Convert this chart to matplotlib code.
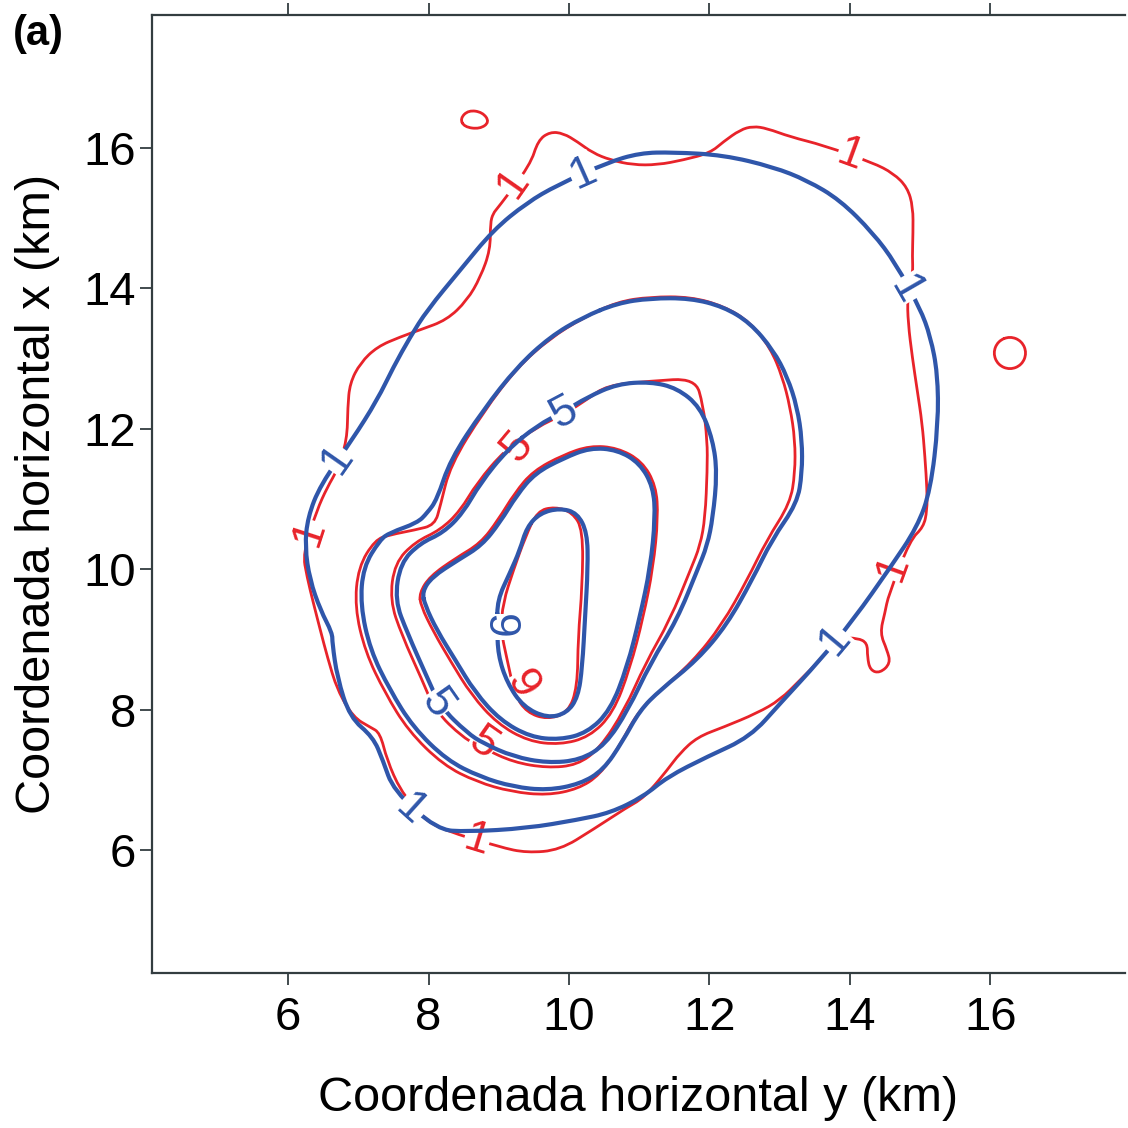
import numpy as np
import matplotlib.pyplot as plt
from matplotlib.path import Path
from matplotlib.patches import PathPatch

plt.rcParams["font.family"] = ["Liberation Sans", "DejaVu Sans"]

# contour lines (km); red = one field, blue = the other
red_lvl1 = [(9.45, 15.76), (9.56, 16.11), (9.73, 16.23), (9.92, 16.21), (10.12, 16.09),
            (10.34, 15.93), (10.59, 15.83), (10.91, 15.76), (11.26, 15.76), (11.63, 15.83),
            (12.01, 15.93), (12.20, 16.09), (12.44, 16.26), (12.62, 16.31), (12.82, 16.28),
            (13.15, 16.16), (13.62, 16.04), (14.33, 15.79), (14.62, 15.64), (14.82, 15.44),
            (14.90, 15.16), (14.90, 14.79), (14.89, 14.45), (14.90, 14.22), (14.82, 13.88),
            (14.83, 13.51), (14.89, 13.02), (14.96, 12.55), (15.03, 12.08), (15.07, 11.60),
            (15.10, 11.13), (15.10, 10.84), (15.05, 10.60), (14.86, 10.42), (14.55, 9.63),
            (14.50, 9.38), (14.43, 9.09), (14.53, 8.85), (14.58, 8.66), (14.43, 8.52),
            (14.29, 8.56), (14.25, 8.75), (14.25, 8.95), (14.11, 9.02), (13.86, 9.02),
            (13.72, 8.89), (13.58, 8.71), (13.29, 8.42), (13.01, 8.14), (12.68, 7.95),
            (12.20, 7.75), (11.83, 7.61), (11.58, 7.38), (11.40, 7.14), (11.16, 6.85),
            (11.01, 6.71), (10.83, 6.61), (10.34, 6.29), (9.87, 6.00), (9.40, 5.96),
            (9.02, 6.04), (8.07, 6.33), (7.84, 6.57), (7.60, 6.85), (7.41, 7.28),
            (7.31, 7.67), (7.17, 7.75), (6.93, 7.89), (6.70, 8.28), (6.56, 8.75),
            (6.46, 9.13), (6.36, 9.52), (6.27, 9.89), (6.21, 10.23), (6.41, 10.84),
            (6.56, 11.17), (6.70, 11.41), (6.84, 11.84), (6.85, 12.31), (6.88, 12.65),
            (7.03, 12.94), (7.27, 13.17), (7.60, 13.31), (7.88, 13.41), (8.26, 13.55),
            (8.55, 13.83), (8.74, 14.16), (8.88, 14.55), (8.88, 14.93), (8.92, 15.07),
            (8.99, 15.15)]
red_lvl3 = [(10.69, 13.81), (11.16, 13.88), (11.73, 13.88), (12.20, 13.75), (12.58, 13.52),
            (12.87, 13.15), (13.04, 12.74), (13.15, 12.31), (13.22, 11.84), (13.22, 11.37),
            (13.15, 10.94), (12.82, 10.42), (12.54, 9.85), (12.18, 9.21), (11.76, 8.68),
            (11.26, 8.24), (10.97, 7.95), (10.72, 7.48), (10.44, 7.07), (10.13, 6.87),
            (9.69, 6.78), (9.18, 6.83), (8.69, 6.97), (8.21, 7.21), (7.71, 7.70),
            (7.38, 8.24), (7.10, 8.82), (6.95, 9.46), (7.00, 10.03), (7.24, 10.42),
            (7.45, 10.49), (7.81, 10.56), (8.09, 10.63), (8.17, 10.91), (8.31, 11.48),
            (8.78, 12.24), (9.26, 12.87), (9.73, 13.29), (10.20, 13.58)]
red_lvl5 = [(9.55, 12.03), (9.92, 12.20), (10.26, 12.42), (10.54, 12.62), (11.16, 12.68),
            (11.80, 12.72), (11.91, 12.34), (11.97, 11.84), (11.97, 11.41), (11.94, 10.74),
            (11.87, 10.34), (11.73, 9.99), (11.44, 9.28), (11.09, 8.66), (10.79, 7.99),
            (10.44, 7.45), (10.12, 7.21), (9.69, 7.17), (9.21, 7.25), (8.78, 7.45),
            (8.49, 7.60), (8.09, 7.99), (7.91, 8.42), (7.62, 9.06), (7.45, 9.56),
            (7.52, 10.09), (7.81, 10.39), (8.17, 10.56), (8.45, 10.83), (8.69, 11.23),
            (9.09, 11.70)]
red_lvl7 = [(7.87, 9.66), (8.02, 9.90), (8.39, 10.16), (8.74, 10.37), (8.99, 10.70),
            (9.23, 11.09), (9.49, 11.40), (9.92, 11.63), (10.30, 11.76), (10.69, 11.73),
            (11.04, 11.54), (11.24, 11.19), (11.27, 10.74), (11.20, 10.03), (11.06, 9.32),
            (10.87, 8.59), (10.63, 7.95), (10.29, 7.61), (9.87, 7.50), (9.42, 7.55),
            (8.98, 7.80), (8.61, 8.21), (8.32, 8.68), (8.07, 9.11), (7.89, 9.48)]
red_lvl9 = [(9.55, 10.83), (9.80, 10.89), (10.05, 10.81), (10.20, 10.56), (10.19, 9.75),
            (10.13, 9.03), (10.12, 8.32), (9.99, 7.96), (9.69, 7.86), (9.40, 7.96),
            (9.23, 8.21), (9.12, 8.71), (9.03, 9.13), (9.06, 9.52), (9.21, 9.99),
            (9.38, 10.46)]
red_islet_a = [(8.45, 16.42), (8.57, 16.54), (8.77, 16.51), (8.87, 16.37), (8.73, 16.27),
               (8.51, 16.30)]
red_islet_b = [(16.28, 13.32), (16.45, 13.25), (16.52, 13.08), (16.45, 12.91), (16.28, 12.84),
               (16.11, 12.91), (16.04, 13.08), (16.11, 13.25)]

blue_lvl1 = [(9.83, 15.47), (9.40, 15.22), (8.92, 14.83), (8.45, 14.26), (7.98, 13.69),
             (7.74, 13.31), (7.50, 12.88), (7.27, 12.41), (6.91, 11.84), (6.46, 11.20),
             (6.28, 10.74), (6.24, 10.32), (6.31, 9.85), (6.46, 9.42), (6.63, 9.09),
             (6.63, 8.95), (6.70, 8.46), (6.88, 7.89), (7.21, 7.61), (7.35, 7.28),
             (7.50, 6.85), (8.12, 6.29), (8.55, 6.26), (9.40, 6.31), (10.12, 6.43),
             (10.59, 6.53), (11.06, 6.76), (11.40, 7.04), (11.97, 7.33), (12.58, 7.61),
             (13.01, 8.09), (13.58, 8.71), (14.05, 9.28), (14.58, 10.03), (14.96, 10.60),
             (15.15, 11.13), (15.26, 12.08), (15.25, 12.79), (15.15, 13.31), (15.00, 13.72),
             (14.65, 14.36), (14.33, 14.79), (13.86, 15.26), (13.39, 15.54), (12.91, 15.73),
             (12.20, 15.90), (11.48, 15.94), (11.01, 15.93), (10.54, 15.79)]
blue_lvl3 = [(10.69, 13.79), (11.16, 13.86), (11.73, 13.86), (12.20, 13.74), (12.58, 13.51),
             (12.91, 13.12), (13.11, 12.74), (13.25, 12.31), (13.32, 11.84), (13.32, 11.37),
             (13.25, 10.94), (12.89, 10.42), (12.61, 9.85), (12.25, 9.21), (11.83, 8.71),
             (11.30, 8.28), (11.01, 7.99), (10.76, 7.54), (10.49, 7.14), (10.16, 6.94),
             (9.69, 6.85), (9.21, 6.90), (8.74, 7.04), (8.26, 7.28), (7.78, 7.75),
             (7.45, 8.28), (7.17, 8.85), (7.03, 9.49), (7.07, 10.03), (7.31, 10.42),
             (7.45, 10.52), (7.84, 10.66), (7.98, 10.80), (8.12, 10.99), (8.31, 11.56),
             (8.78, 12.27), (9.26, 12.88), (9.73, 13.31), (10.20, 13.59)]
blue_lvl5 = [(9.55, 12.05), (9.92, 12.24), (10.26, 12.45), (10.69, 12.64), (11.16, 12.67),
             (11.54, 12.58), (11.87, 12.31), (12.05, 11.84), (12.11, 11.37), (12.05, 10.74),
             (11.97, 10.34), (11.83, 9.99), (11.54, 9.28), (11.16, 8.66), (10.84, 7.99),
             (10.52, 7.50), (10.16, 7.28), (9.69, 7.24), (9.21, 7.33), (8.78, 7.52),
             (8.55, 7.67), (8.17, 8.04), (7.98, 8.46), (7.70, 9.09), (7.52, 9.56),
             (7.60, 10.09), (7.88, 10.37), (8.21, 10.52), (8.49, 10.80), (8.74, 11.23),
             (9.12, 11.70)]
blue_lvl7 = [(7.91, 9.68), (8.05, 9.89), (8.42, 10.13), (8.76, 10.34), (9.02, 10.67),
             (9.26, 11.06), (9.52, 11.37), (9.92, 11.58), (10.30, 11.73), (10.69, 11.70),
             (11.01, 11.51), (11.20, 11.17), (11.23, 10.74), (11.16, 10.03), (11.01, 9.32),
             (10.83, 8.61), (10.59, 7.99), (10.26, 7.67), (9.87, 7.57), (9.45, 7.61),
             (9.02, 7.85), (8.66, 8.25), (8.38, 8.71), (8.12, 9.13), (7.95, 9.49)]
blue_lvl9 = [(8.98, 9.56), (9.16, 9.95), (9.30, 10.27), (9.40, 10.60), (9.59, 10.80),
             (9.87, 10.87), (10.12, 10.80), (10.26, 10.52), (10.27, 10.03), (10.23, 9.32),
             (10.19, 8.61), (10.13, 8.18), (9.97, 7.95), (9.69, 7.88), (9.35, 8.04),
             (9.12, 8.38), (8.99, 8.78), (8.98, 9.18)]

# contour labels: x, y, text, angle
red_labels = [(9.21, 15.50, "1", 55), (14.01, 15.90, "1", -20), (14.62, 10.03, "1", 70),
              (6.31, 10.52, "1", 72), (8.69, 6.14, "1", -17), (9.26, 11.74, "5", 50),
              (8.78, 7.52, "5", -35), (9.33, 8.35, "9", -60)]
blue_labels = [(10.20, 15.64, "1", 24), (14.79, 13.98, "1", -60), (13.79, 8.99, "1", 50),
               (7.74, 6.57, "1", -42), (6.70, 11.56, "1", 55), (9.92, 12.23, "5", 28),
               (8.12, 8.09, "5", -55), (8.99, 9.18, "9", -90)]

RED = "#e8232a"
BLUE = "#2f56aa"


def draw_ring(ax, pts, color, lw, z):
    # closed curve, drawn with quadratic segments so the traced corners look smooth
    p = np.array(pts)
    mid = (p + np.roll(p, -1, axis=0)) / 2
    verts = [mid[-1]]
    codes = [Path.MOVETO]
    for i in range(len(p)):
        verts += [p[i], mid[i]]
        codes += [Path.CURVE3, Path.CURVE3]
    ax.add_patch(PathPatch(Path(verts, codes), fill=False, ec=color, lw=lw,
                           zorder=z, joinstyle="round", capstyle="round"))


fig = plt.figure(figsize=(11.28, 11.28), dpi=100)
ax = fig.add_axes([0.1348, 0.1374, 0.8626, 0.8493])

for ring in [red_lvl1, red_lvl3, red_lvl5, red_lvl7, red_lvl9, red_islet_a, red_islet_b]:
    draw_ring(ax, ring, RED, 2.0, 2)
for x, y, s, r in red_labels:
    ax.text(x, y, s, color=RED, fontsize=32, rotation=r, ha="center", va="center",
            rotation_mode="anchor", zorder=3,
            bbox=dict(fc="white", ec="none", pad=0.3))

for ring in [blue_lvl1, blue_lvl3, blue_lvl5, blue_lvl7, blue_lvl9]:
    draw_ring(ax, ring, BLUE, 3.0, 4)
for x, y, s, r in blue_labels:
    ax.text(x, y, s, color=BLUE, fontsize=32, rotation=r, ha="center", va="center",
            rotation_mode="anchor", zorder=5,
            bbox=dict(fc="white", ec="none", pad=0.3))

ax.set_xlim(4.063, 17.92)
ax.set_ylim(4.248, 17.895)
ax.set_xticks([6, 8, 10, 12, 14, 16])
ax.set_yticks([6, 8, 10, 12, 14, 16])

spine_col = "#333d40"
for side in ["left", "bottom", "top"]:
    ax.spines[side].set_color(spine_col)
    ax.spines[side].set_linewidth(1.6)
ax.spines["right"].set_visible(False)
ax.tick_params(axis="both", which="both", direction="out", length=8.5, width=1.3,
               color=spine_col, labelsize=34, top=True, right=False)
ax.tick_params(axis="x", pad=8)
ax.tick_params(axis="y", pad=3)

ax.set_xlabel("Coordenada horizontal y (km)", fontsize=35, labelpad=26)
ax.set_ylabel("Coordenada horizontal x (km)", fontsize=35, labelpad=17)

fig.text(0.011, 0.988, "(a)", fontsize=30, fontweight="bold", ha="left", va="top")

fig.savefig("out.png", dpi=100)
